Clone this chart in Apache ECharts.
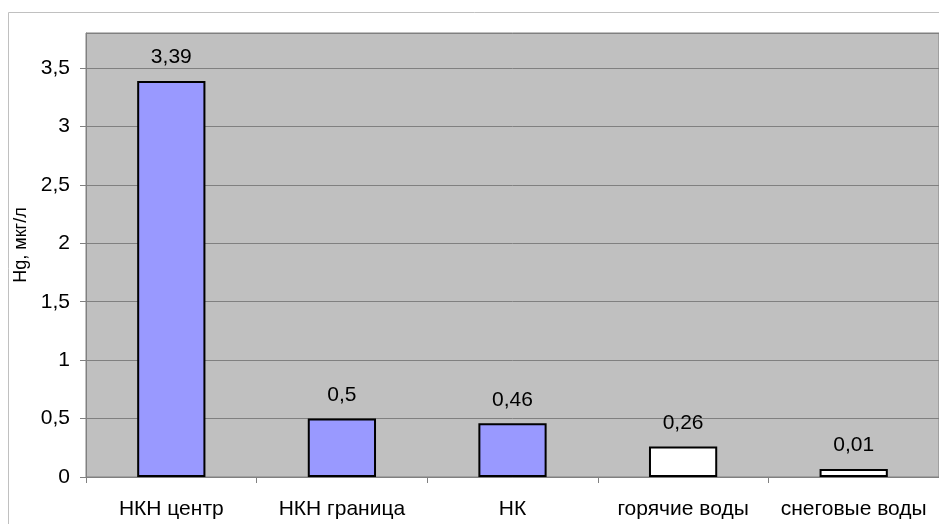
<!DOCTYPE html>
<html>
<head>
<meta charset="utf-8">
<script src="https://cdn.jsdelivr.net/npm/echarts@6/dist/echarts.min.js"></script>
<style>
html,body{margin:0;padding:0;background:#fff;}
#chart{width:939px;height:524px;}
</style>
</head>
<body>
<div id="chart"></div>
<script>
// Mercury concentration by water source
const categories = ['НКН центр', 'НКН граница', 'НК', 'горячие воды', 'снеговые воды'];
const values = [3.39, 0.5, 0.46, 0.26, 0.01];
const barColors = ['#9999ff', '#9999ff', '#9999ff', '#ffffff', '#ffffff'];
const yTicks = [0, 0.5, 1, 1.5, 2, 2.5, 3, 3.5];

const comma = v => String(v).replace('.', ',');
const font = 'Liberation Sans, Arial, sans-serif';

const chart = echarts.init(document.getElementById('chart'));
chart.setOption({
  animation: false,
  textStyle: { fontFamily: font },
  graphic: [{
    type: 'rect',
    shape: { x: 8.5, y: 12.5, width: 960, height: 540 },
    style: { fill: 'none', stroke: '#c0c0c0', lineWidth: 1 },
    silent: true, z: -10
  }],
  grid: {
    left: 86, top: 33, right: -2, bottom: 47,
    show: true, backgroundColor: '#c0c0c0', borderColor: '#808080', borderWidth: 1
  },
  xAxis: {
    type: 'category',
    data: categories,
    axisLine: { lineStyle: { color: '#808080', width: 1 } },
    axisTick: { show: true, length: 6, lineStyle: { color: '#808080' } },
    axisLabel: { color: '#000', fontSize: 21, margin: 22, interval: 0, hideOverlap: false, fontFamily: font }
  },
  yAxis: {
    type: 'value',
    min: 0, max: 3.8, interval: 0.5,
    name: 'Hg, мкг/л',
    nameLocation: 'middle',
    nameGap: 53,
    nameTextStyle: { color: '#000', fontSize: 18, fontFamily: font, padding: [0, 0, 0, 20] },
    axisLine: { show: true, lineStyle: { color: '#808080', width: 1 } },
    axisTick: { show: true, length: 6, inside: false, lineStyle: { color: '#808080' } },
    axisLabel: {
      color: '#000', fontSize: 21, margin: 16, fontFamily: font,
      showMaxLabel: false,
      formatter: v => yTicks.includes(v) ? comma(v) : ''
    },
    splitLine: { show: true, lineStyle: { color: '#808080', width: 1 } }
  },
  series: [{
    type: 'bar',
    data: values.map((v, i) => ({ value: v, itemStyle: { color: barColors[i] } })),
    barWidth: '40%',
    barMinHeight: 8,
    itemStyle: { borderColor: '#000', borderWidth: 2 },
    label: {
      show: true, position: 'top', distance: 13,
      color: '#000', fontSize: 21, fontFamily: font,
      formatter: p => comma(p.value)
    }
  }]
});
</script>
</body>
</html>
